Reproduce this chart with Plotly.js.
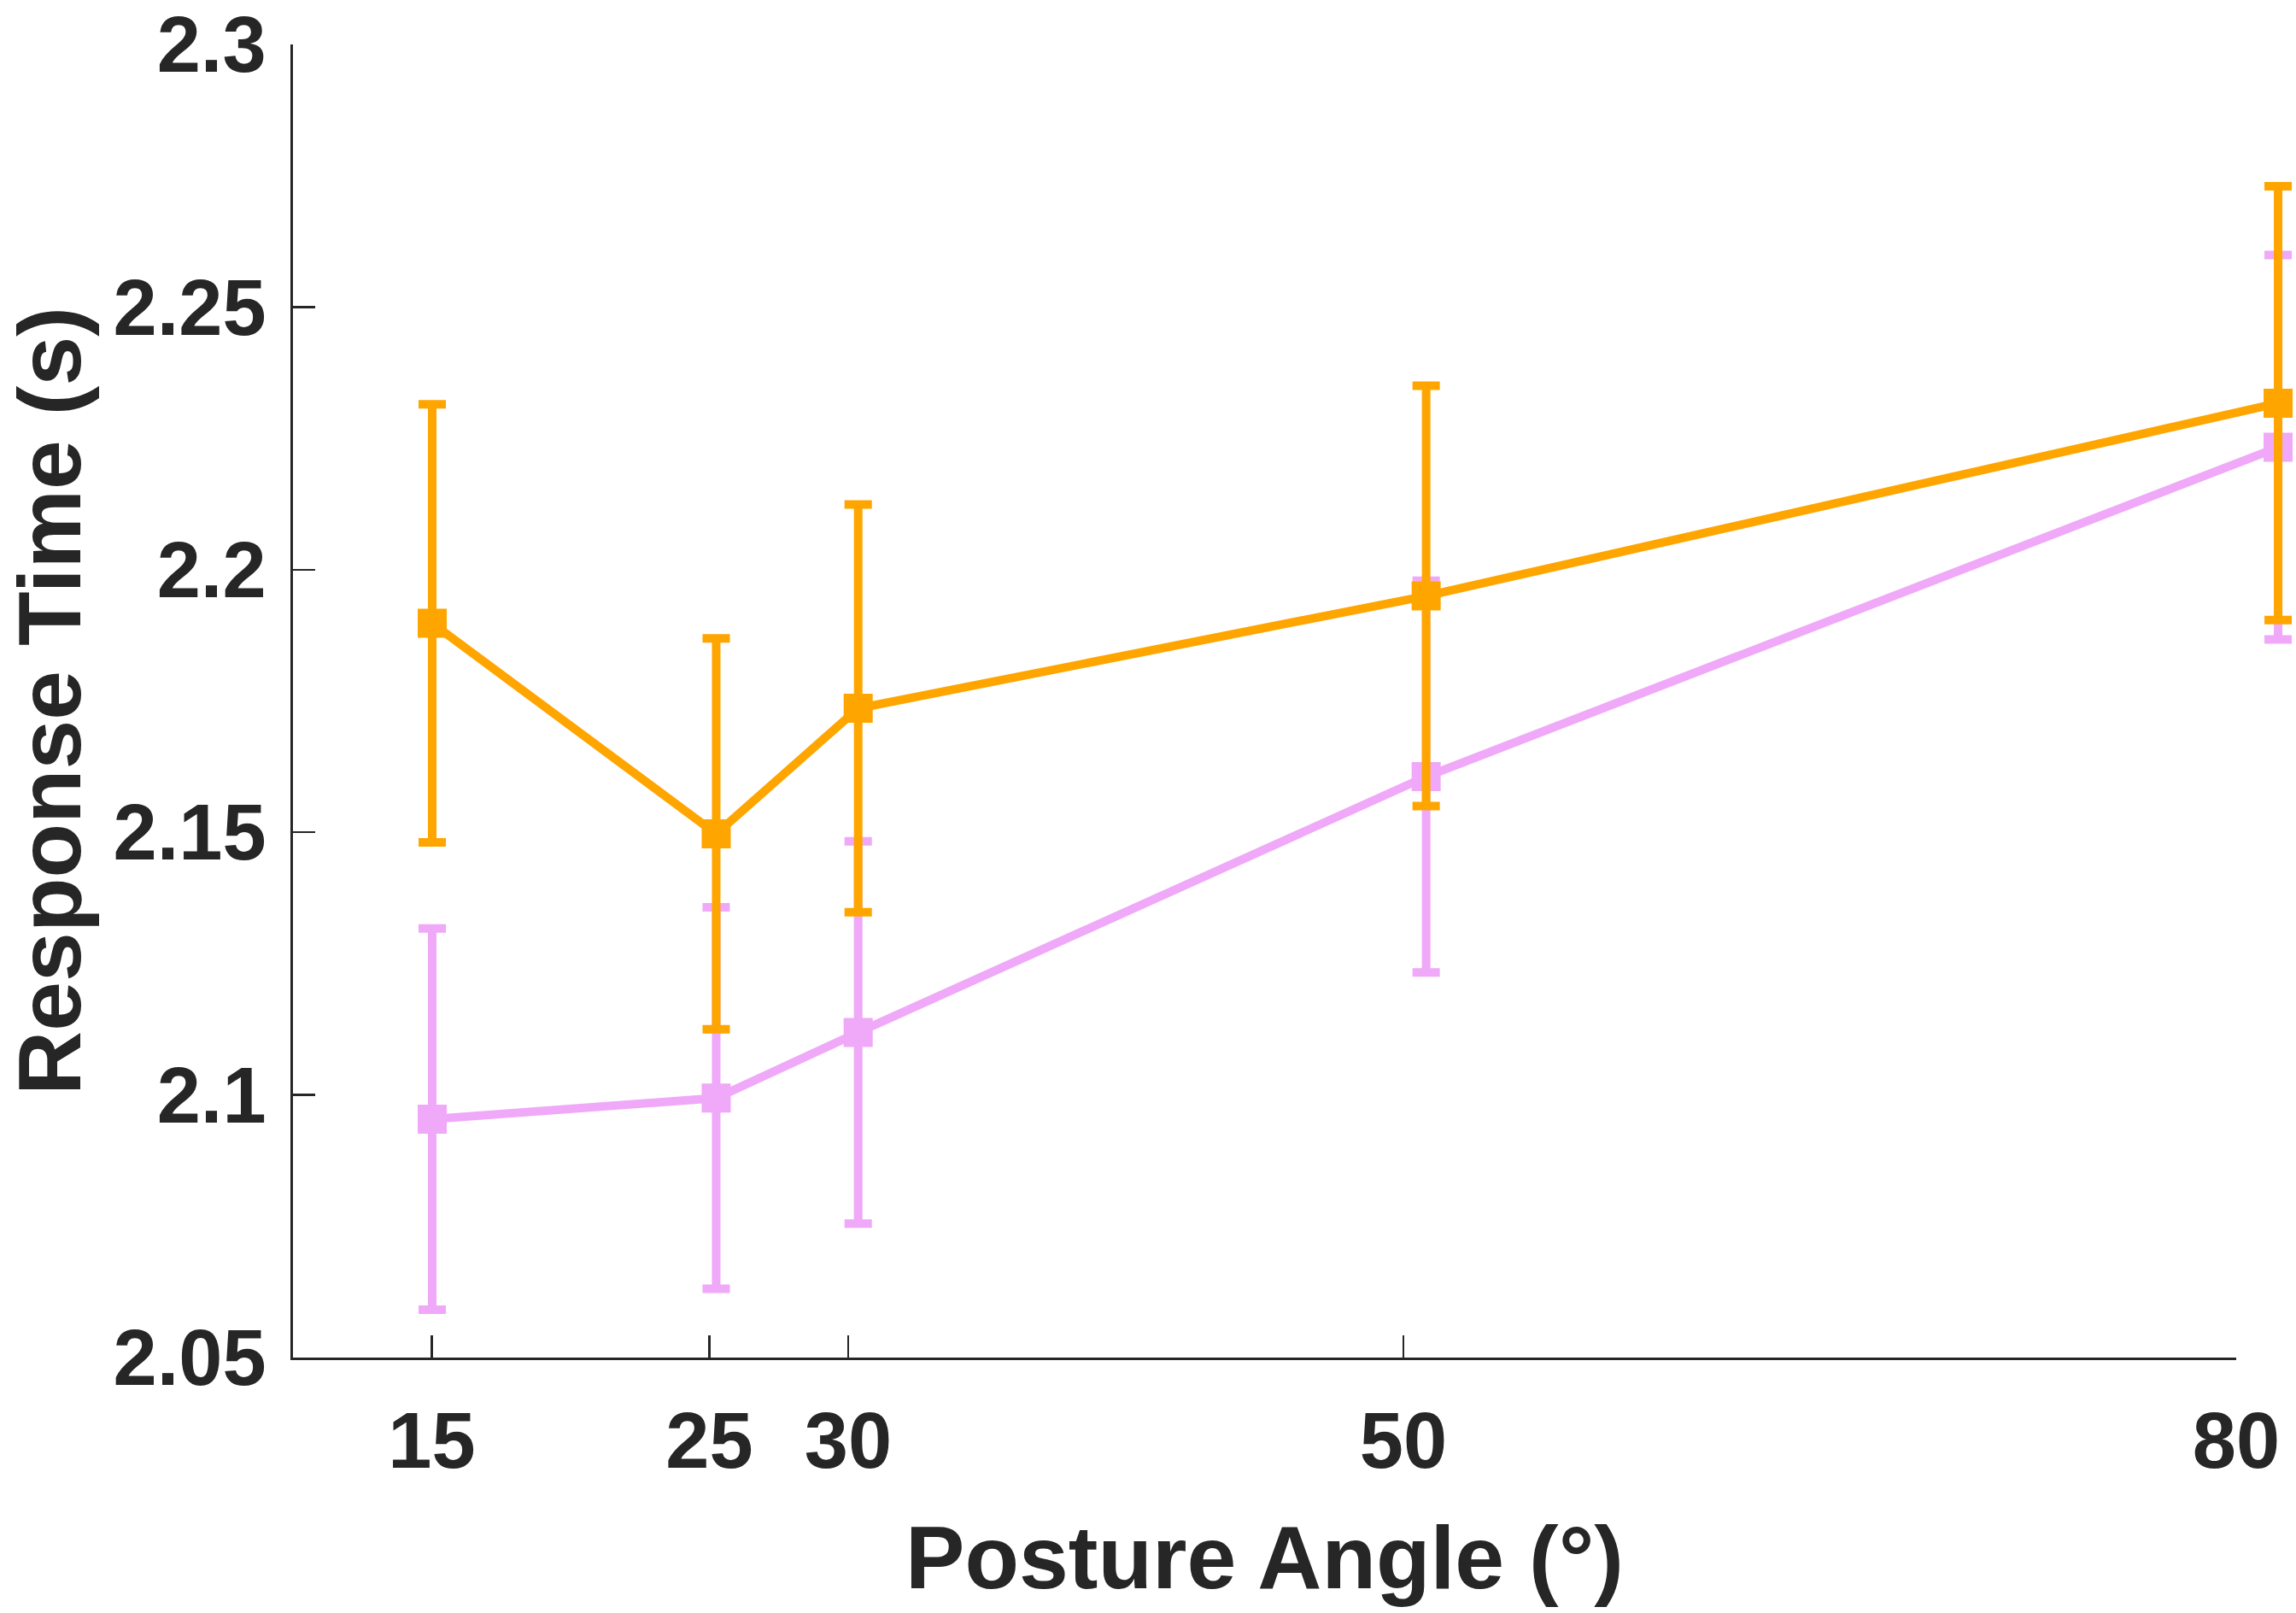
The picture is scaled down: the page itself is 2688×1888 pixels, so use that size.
<!DOCTYPE html>
<html><head><meta charset="utf-8">
<script src="https://cdn.plot.ly/plotly-3.0.1.min.js"></script>
<style>html,body{margin:0;padding:0;background:#fff}#chart{width:2688px;height:1888px}</style>
</head><body><div id="chart"></div>
<script>
// Posture angles (deg)
const angles = [15, 25, 30, 50, 80];
// Orange series: mean response time (s) and error
const orangeMean = [2.1898, 2.1497, 2.1736, 2.1950, 2.2317];
const orangeErr  = [0.0417, 0.0372, 0.0388, 0.0400, 0.0413];
// Pink series: mean response time (s) and error
const pinkMean = [2.0954, 2.0994, 2.1119, 2.1606, 2.2233];
const pinkErr  = [0.0363, 0.0363, 0.0364, 0.0373, 0.0366];
// Tick labels
const xTickVals = [15, 25, 30, 50, 80];
const xTickText = ['15', '25', '30', '50', '80'];
const yTickVals = [2.05, 2.1, 2.15, 2.2, 2.25, 2.3];
const yTickText = ['2.05', '2.1', '2.15', '2.2', '2.25', '2.3'];

const ORANGE = '#FFA500';
const PINK = '#F0A8F8';
const INK = '#262626';
const FONT = 'Liberation Sans, Arial, Helvetica, sans-serif';

function series(y, err, color) {
  return {
    type: 'scatter', mode: 'lines+markers',
    x: angles, y: y, xaxis: 'x2', yaxis: 'y',
    line: {color: color, width: 10},
    marker: {symbol: 'square', size: 34, color: color, line: {width: 0}},
    error_y: {type: 'data', array: err, visible: true, color: color, thickness: 10, width: 16},
    cliponaxis: false, hoverinfo: 'x+y', showlegend: false
  };
}

// empty trace only to register the visible x/y axis pair
const axisHolder = {type: 'scatter', mode: 'none', x: [], y: [], xaxis: 'x', yaxis: 'y',
  showlegend: false, hoverinfo: 'skip'};

const data = [axisHolder, series(pinkMean, pinkErr, PINK), series(orangeMean, orangeErr, ORANGE)];

const axisFont = {family: FONT, size: 92, color: INK, weight: 'bold'};
const titleFont = {family: FONT, size: 104, color: INK, weight: 'bold'};

const layout = {
  width: 2688, height: 1888,
  margin: {l: 343, r: 0, t: 52, b: 299, pad: 0},
  paper_bgcolor: '#ffffff', plot_bgcolor: 'rgba(0,0,0,0)',
  showlegend: false,
  xaxis: {
    domain: [0, 2275 / 2345], range: [10, 80.0001], anchor: 'y',
    tickmode: 'array', tickvals: xTickVals, ticktext: xTickText,
    ticks: 'inside', ticklen: 26, tickwidth: 2.5, tickcolor: INK,
    showline: true, linecolor: INK, linewidth: 3,
    showgrid: false, zeroline: false, tickfont: axisFont,
    ticklabelstandoff: 16, ticklabeloverflow: 'allow',
    title: {text: 'Posture Angle (°)', font: titleFont, standoff: 50},
    fixedrange: true
  },
  xaxis2: {
    domain: [0, 1], range: [10.097, 80.63], anchor: 'y', visible: false, fixedrange: true
  },
  yaxis: {
    range: [2.0499999, 2.3000001], anchor: 'x',
    tickmode: 'array', tickvals: yTickVals, ticktext: yTickText,
    ticks: 'inside', ticklen: 26, tickwidth: 2.5, tickcolor: INK,
    showline: true, linecolor: INK, linewidth: 3,
    showgrid: false, zeroline: false, tickfont: axisFont,
    ticklabelstandoff: 10, ticklabeloverflow: 'allow',
    title: {text: 'Response Time (s)', font: titleFont, standoff: 54},
    fixedrange: true
  }
};

Plotly.newPlot('chart', data, layout, {displayModeBar: false, staticPlot: true});
</script>
</body></html>
